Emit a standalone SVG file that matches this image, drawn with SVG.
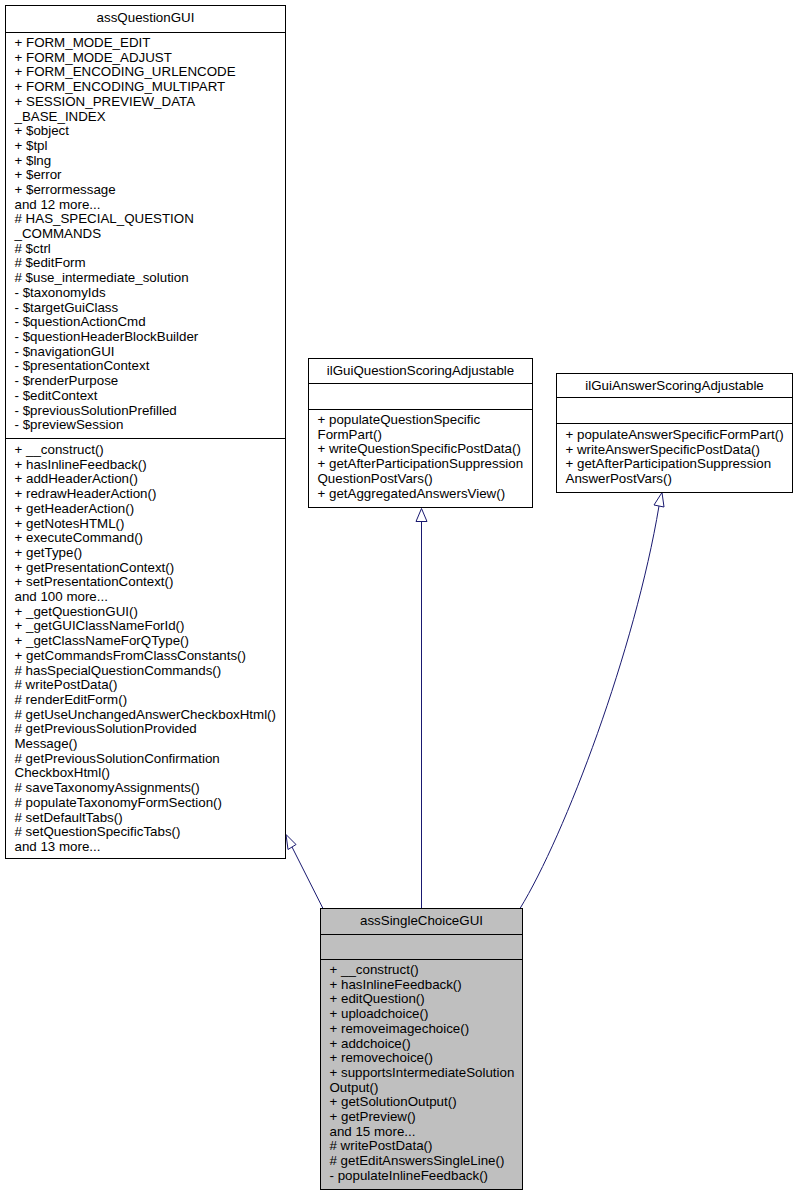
<svg xmlns="http://www.w3.org/2000/svg" width="798" height="1196" viewBox="0 0 798 1196">
<style>
.bg{fill:#fff}
.box{fill:#fff;stroke:#000;stroke-width:1}
.cur{fill:#bfbfbf;stroke:#000;stroke-width:1}
.sep{stroke:#000;stroke-width:1}
.t{font-family:"Liberation Sans",Arial,Helvetica,sans-serif;font-size:13.33px;fill:#000}
.h{text-anchor:middle}
.e{fill:none;stroke:#191970;stroke-width:1}
.ah{fill:#fff;stroke:#191970;stroke-width:1}
</style>
<rect class="bg" x="0" y="0" width="798" height="1196"/>
<g id="edges">
<path class="e" d="M323,908.5 L292,847"/>
<polygon class="ah" points="286,834.5 296,844.5 288,849.5"/>
<path class="e" d="M421.5,908.5 L421.5,521.5"/>
<polygon class="ah" points="421.5,508.5 416,521.5 427,521.5"/>
<path class="e" d="M520,908.5 C565,835 635,650 659,506"/>
<polygon class="ah" points="662,492.5 654,505 664,507"/>
</g>
<g id="assQuestionGUI">
<rect class="box" x="5.5" y="5.5" width="280" height="853"/>
<line class="sep" x1="5.5" y1="32.5" x2="285.5" y2="32.5"/>
<line class="sep" x1="5.5" y1="438.5" x2="285.5" y2="438.5"/>
<text class="t h" x="145.5" y="21.5">assQuestionGUI</text>
<text class="t" x="14.5" y="47">
<tspan x="14.5" dy="0">+ FORM_MODE_EDIT</tspan>
<tspan x="14.5" dy="14.7">+ FORM_MODE_ADJUST</tspan>
<tspan x="14.5" dy="14.7">+ FORM_ENCODING_URLENCODE</tspan>
<tspan x="14.5" dy="14.7">+ FORM_ENCODING_MULTIPART</tspan>
<tspan x="14.5" dy="14.7">+ SESSION_PREVIEW_DATA</tspan>
<tspan x="14.5" dy="14.7">_BASE_INDEX</tspan>
<tspan x="14.5" dy="14.7">+ $object</tspan>
<tspan x="14.5" dy="14.7">+ $tpl</tspan>
<tspan x="14.5" dy="14.7">+ $lng</tspan>
<tspan x="14.5" dy="14.7">+ $error</tspan>
<tspan x="14.5" dy="14.7">+ $errormessage</tspan>
<tspan x="14.5" dy="14.7">and 12 more...</tspan>
<tspan x="14.5" dy="14.7"># HAS_SPECIAL_QUESTION</tspan>
<tspan x="14.5" dy="14.7">_COMMANDS</tspan>
<tspan x="14.5" dy="14.7"># $ctrl</tspan>
<tspan x="14.5" dy="14.7"># $editForm</tspan>
<tspan x="14.5" dy="14.7"># $use_intermediate_solution</tspan>
<tspan x="14.5" dy="14.7">- $taxonomyIds</tspan>
<tspan x="14.5" dy="14.7">- $targetGuiClass</tspan>
<tspan x="14.5" dy="14.7">- $questionActionCmd</tspan>
<tspan x="14.5" dy="14.7">- $questionHeaderBlockBuilder</tspan>
<tspan x="14.5" dy="14.7">- $navigationGUI</tspan>
<tspan x="14.5" dy="14.7">- $presentationContext</tspan>
<tspan x="14.5" dy="14.7">- $renderPurpose</tspan>
<tspan x="14.5" dy="14.7">- $editContext</tspan>
<tspan x="14.5" dy="14.7">- $previousSolutionPrefilled</tspan>
<tspan x="14.5" dy="14.7">- $previewSession</tspan>
</text>
<text class="t" x="14.5" y="454">
<tspan x="14.5" dy="0">+ __construct()</tspan>
<tspan x="14.5" dy="14.7">+ hasInlineFeedback()</tspan>
<tspan x="14.5" dy="14.7">+ addHeaderAction()</tspan>
<tspan x="14.5" dy="14.7">+ redrawHeaderAction()</tspan>
<tspan x="14.5" dy="14.7">+ getHeaderAction()</tspan>
<tspan x="14.5" dy="14.7">+ getNotesHTML()</tspan>
<tspan x="14.5" dy="14.7">+ executeCommand()</tspan>
<tspan x="14.5" dy="14.7">+ getType()</tspan>
<tspan x="14.5" dy="14.7">+ getPresentationContext()</tspan>
<tspan x="14.5" dy="14.7">+ setPresentationContext()</tspan>
<tspan x="14.5" dy="14.7">and 100 more...</tspan>
<tspan x="14.5" dy="14.7">+ _getQuestionGUI()</tspan>
<tspan x="14.5" dy="14.7">+ _getGUIClassNameForId()</tspan>
<tspan x="14.5" dy="14.7">+ _getClassNameForQType()</tspan>
<tspan x="14.5" dy="14.7">+ getCommandsFromClassConstants()</tspan>
<tspan x="14.5" dy="14.7"># hasSpecialQuestionCommands()</tspan>
<tspan x="14.5" dy="14.7"># writePostData()</tspan>
<tspan x="14.5" dy="14.7"># renderEditForm()</tspan>
<tspan x="14.5" dy="14.7"># getUseUnchangedAnswerCheckboxHtml()</tspan>
<tspan x="14.5" dy="14.7"># getPreviousSolutionProvided</tspan>
<tspan x="14.5" dy="14.7">Message()</tspan>
<tspan x="14.5" dy="14.7"># getPreviousSolutionConfirmation</tspan>
<tspan x="14.5" dy="14.7">CheckboxHtml()</tspan>
<tspan x="14.5" dy="14.7"># saveTaxonomyAssignments()</tspan>
<tspan x="14.5" dy="14.7"># populateTaxonomyFormSection()</tspan>
<tspan x="14.5" dy="14.7"># setDefaultTabs()</tspan>
<tspan x="14.5" dy="14.7"># setQuestionSpecificTabs()</tspan>
<tspan x="14.5" dy="14.7">and 13 more...</tspan>
</text>
</g>
<g id="ilGuiQuestionScoringAdjustable">
<rect class="box" x="308.5" y="358.5" width="224" height="149"/>
<line class="sep" x1="308.5" y1="383.5" x2="532.5" y2="383.5"/>
<line class="sep" x1="308.5" y1="409.5" x2="532.5" y2="409.5"/>
<text class="t h" x="420.5" y="375">ilGuiQuestionScoringAdjustable</text>
<text class="t" x="317.5" y="424">
<tspan x="317.5" dy="0">+ populateQuestionSpecific</tspan>
<tspan x="317.5" dy="14.7">FormPart()</tspan>
<tspan x="317.5" dy="14.7">+ writeQuestionSpecificPostData()</tspan>
<tspan x="317.5" dy="14.7">+ getAfterParticipationSuppression</tspan>
<tspan x="317.5" dy="14.7">QuestionPostVars()</tspan>
<tspan x="317.5" dy="14.7">+ getAggregatedAnswersView()</tspan>
</text>
</g>
<g id="ilGuiAnswerScoringAdjustable">
<rect class="box" x="556.5" y="373.5" width="236" height="119"/>
<line class="sep" x1="556.5" y1="397.5" x2="792.5" y2="397.5"/>
<line class="sep" x1="556.5" y1="423.5" x2="792.5" y2="423.5"/>
<text class="t h" x="674.5" y="389.5">ilGuiAnswerScoringAdjustable</text>
<text class="t" x="565.5" y="439">
<tspan x="565.5" dy="0">+ populateAnswerSpecificFormPart()</tspan>
<tspan x="565.5" dy="14.7">+ writeAnswerSpecificPostData()</tspan>
<tspan x="565.5" dy="14.7">+ getAfterParticipationSuppression</tspan>
<tspan x="565.5" dy="14.7">AnswerPostVars()</tspan>
</text>
</g>
<g id="assSingleChoiceGUI">
<rect class="cur" x="320.5" y="908.5" width="202" height="281"/>
<line class="sep" x1="320.5" y1="934.5" x2="522.5" y2="934.5"/>
<line class="sep" x1="320.5" y1="959.5" x2="522.5" y2="959.5"/>
<text class="t h" x="421.5" y="925">assSingleChoiceGUI</text>
<text class="t" x="329.5" y="974">
<tspan x="329.5" dy="0">+ __construct()</tspan>
<tspan x="329.5" dy="14.7">+ hasInlineFeedback()</tspan>
<tspan x="329.5" dy="14.7">+ editQuestion()</tspan>
<tspan x="329.5" dy="14.7">+ uploadchoice()</tspan>
<tspan x="329.5" dy="14.7">+ removeimagechoice()</tspan>
<tspan x="329.5" dy="14.7">+ addchoice()</tspan>
<tspan x="329.5" dy="14.7">+ removechoice()</tspan>
<tspan x="329.5" dy="14.7">+ supportsIntermediateSolution</tspan>
<tspan x="329.5" dy="14.7">Output()</tspan>
<tspan x="329.5" dy="14.7">+ getSolutionOutput()</tspan>
<tspan x="329.5" dy="14.7">+ getPreview()</tspan>
<tspan x="329.5" dy="14.7">and 15 more...</tspan>
<tspan x="329.5" dy="14.7"># writePostData()</tspan>
<tspan x="329.5" dy="14.7"># getEditAnswersSingleLine()</tspan>
<tspan x="329.5" dy="14.7">- populateInlineFeedback()</tspan>
</text>
</g>
</svg>
